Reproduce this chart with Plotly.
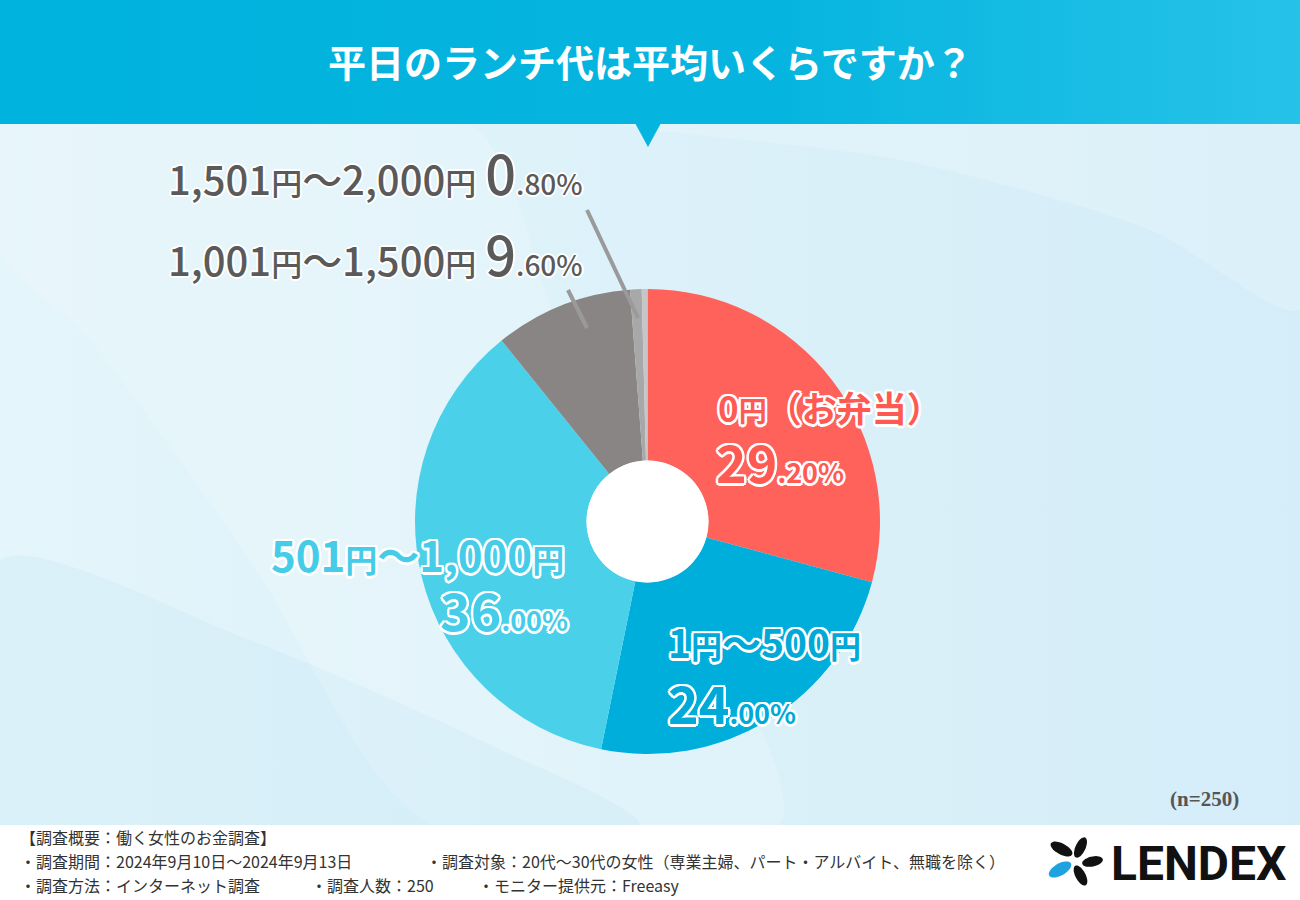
import numpy as np
import plotly.graph_objects as go

# ---------------- data ----------------
title_text = "平日のランチ代は平均いくらですか？"
categories = ["0円（お弁当）", "1円〜500円", "501円〜1,000円", "1,001円〜1,500円", "1,501円〜2,000円", "その他"]
values = [29.2, 24.0, 36.0, 9.6, 0.8, 0.4]
slice_colors = ["#FF625A", "#00AEDB", "#4BD0EA", "#8A8585", "#A8A8A8", "#C6C6C6"]
label_colors = ["#FF5A52", "#00A9D8", "#45CCE8", "#5A5A5A", "#5A5A5A", None]
sample_note = "(n=250)"
survey_head = "【調査概要：働く女性のお金調査】"
survey_items = [
    ["・調査期間：2024年9月10日〜2024年9月13日", "・調査対象：20代〜30代の女性（専業主婦、パート・アルバイト、無職を除く）"],
    ["・調査方法：インターネット調査", "・調査人数：250", "・モニター提供元：Freeasy"],
]
brand = "LENDEX"

# ---------------- helpers ----------------
W, H = 1300, 900
JP = "Noto Sans CJK JP"

def outline(px, col="#ffffff"):
    d = px
    e = round(px * 0.72, 2)
    return ", ".join([
        f"{d}px 0 0 {col}", f"-{d}px 0 0 {col}", f"0 {d}px 0 {col}", f"0 -{d}px 0 {col}",
        f"{e}px {e}px 0 {col}", f"-{e}px -{e}px 0 {col}", f"{e}px -{e}px 0 {col}", f"-{e}px {e}px 0 {col}",
    ])

def yen_small(s, size):
    return s.replace("円", f'<span style="font-size:{size}px">円</span>')

def pct_text(v, big, small):
    s = f"{v:.2f}"
    ip, dp = s.split(".")
    return f'<span style="font-size:{big}px">{ip}</span><span style="font-size:{small}px">.{dp}%</span>'

def ellipse_path(cx, cy, a, b, ang):
    t = np.linspace(0, 2 * np.pi, 40)
    r = np.deg2rad(ang)
    xs = cx + a * np.cos(t) * np.cos(r) - b * np.sin(t) * np.sin(r)
    ys = cy + a * np.cos(t) * np.sin(r) + b * np.sin(t) * np.cos(r)
    return "M " + " L ".join(f"{x:.1f} {y:.1f}" for x, y in zip(xs, ys)) + " Z"

fig = go.Figure()

# background body gradient
fig.add_trace(go.Scatter(
    x=[0, W, W, 0, 0], y=[124, 124, 825, 825, 124], fill="toself", mode="none",
    fillgradient=dict(type="horizontal", colorscale=[[0, "#E4F5FB"], [0.5, "#DCF1F9"], [1, "#D4EDF8"]]),
    hoverinfo="skip", showlegend=False))
# soft light waves
fig.add_trace(go.Scatter(
    x=[0, 470, 560, 700, 780, 430, 250, 90, 0, 0],
    y=[124, 124, 330, 600, 825, 825, 560, 340, 250, 124],
    fill="toself", mode="lines", line=dict(width=0, shape="spline", smoothing=0.8),
    fillcolor="rgba(255,255,255,0.16)", hoverinfo="skip", showlegend=False))
fig.add_trace(go.Scatter(
    x=[620, 900, 1150, 1300, 1300, 620],
    y=[124, 160, 230, 310, 124, 124],
    fill="toself", mode="lines", line=dict(width=0, shape="spline", smoothing=0.8),
    fillcolor="rgba(255,255,255,0.18)", hoverinfo="skip", showlegend=False))
fig.add_trace(go.Scatter(
    x=[0, 250, 480, 640, 0, 0],
    y=[560, 640, 740, 825, 825, 560],
    fill="toself", mode="lines", line=dict(width=0, shape="spline", smoothing=0.8),
    fillcolor="rgba(0,160,210,0.04)", hoverinfo="skip", showlegend=False))
# title band gradient
fig.add_trace(go.Scatter(
    x=[0, W, W, 0, 0], y=[0, 0, 124, 124, 0], fill="toself", mode="none",
    fillgradient=dict(type="horizontal", colorscale=[[0, "#00B2DE"], [0.6, "#06B5DF"], [1, "#26C2E8"]]),
    hoverinfo="skip", showlegend=False))

# pie
cx, cy, R = 647.5, 521.5, 232.5
fig.add_trace(go.Pie(
    labels=categories, values=values, sort=False, direction="clockwise", rotation=0,
    hole=0.262, textinfo="none", hoverinfo="label+value",
    marker=dict(colors=slice_colors, line=dict(width=0)),
    domain=dict(x=[(cx - R) / W, (cx + R) / W], y=[(H - cy - R) / H, (H - cy + R) / H]),
    showlegend=False))

shapes = []
# triangle pointer
shapes.append(dict(type="path", path="M 635 123 L 661 123 L 648 147 Z", xref="x", yref="y",
                   fillcolor="#05B5DF", line=dict(width=0), layer="above"))
# white hole
shapes.append(dict(type="circle", xref="x", yref="y", x0=cx - 61, x1=cx + 61, y0=cy - 61, y1=cy + 61,
                   fillcolor="#FFFFFF", line=dict(width=0), layer="above"))
# leader lines
shapes.append(dict(type="line", xref="x", yref="y", x0=587, y0=210, x1=638, y1=318,
                   line=dict(color="#9A9A9A", width=4), layer="above"))
shapes.append(dict(type="line", xref="x", yref="y", x0=568, y0=290, x1=587, y1=328,
                   line=dict(color="#9A9A9A", width=4), layer="above"))
# footer white
shapes.append(dict(type="rect", xref="x", yref="y", x0=0, x1=W, y0=825, y1=H,
                   fillcolor="#FFFFFF", line=dict(width=0), layer="above"))
# logo petals
petals = [
    (1061.5, 849.0, 12, 5.5, 28, "#111111"),
    (1080.5, 847.5, 11, 5.0, -65, "#111111"),
    (1092.5, 861.5, 10.5, 5.0, -12, "#111111"),
    (1060.0, 869.5, 12.5, 6.0, -30, "#1FA3E0"),
    (1080.5, 875.5, 11, 5.0, 62, "#111111"),
]
for (px, py, a, b, ang, col) in petals:
    shapes.append(dict(type="path", path=ellipse_path(px, py, a, b, ang), xref="x", yref="y",
                       fillcolor=col, line=dict(width=0), layer="above"))

ann = []
# title
ann.append(dict(text=title_text, x=650, y=60, xref="x", yref="y", showarrow=False,
                xanchor="center", yanchor="middle",
                font=dict(family=JP, size=38, color="#FFFFFF", weight=700)))

# slice labels
gray_shadow = outline(2)
col_shadow = outline(2.5)
# 1,501-2,000 (index 4)
ann.append(dict(text=yen_small(categories[4], 31) + " " + pct_text(values[4], 54, 28),
                x=166, y=213, xref="x", yref="y", showarrow=False, xanchor="left", yanchor="bottom",
                font=dict(family=JP, size=40, color=label_colors[4], weight=500, shadow=gray_shadow)))
# 1,001-1,500 (index 3)
ann.append(dict(text=yen_small(categories[3], 31) + " " + pct_text(values[3], 54, 28),
                x=166, y=294, xref="x", yref="y", showarrow=False, xanchor="left", yanchor="bottom",
                font=dict(family=JP, size=40, color=label_colors[3], weight=500, shadow=gray_shadow)))
# 0 yen (index 0)
ann.append(dict(text=yen_small(categories[0], 28), x=716, y=406, xref="x", yref="y", showarrow=False,
                xanchor="left", yanchor="middle",
                font=dict(family=JP, size=35, color=label_colors[0], weight=700, shadow=col_shadow)))
ann.append(dict(text=pct_text(values[0], 52, 27), x=714, y=500, xref="x", yref="y", showarrow=False,
                xanchor="left", yanchor="bottom",
                font=dict(family=JP, size=52, color=label_colors[0], weight=700, shadow=col_shadow)))
# 1-500 (index 1)
ann.append(dict(text=yen_small(categories[1], 31), x=666, y=641, xref="x", yref="y", showarrow=False,
                xanchor="left", yanchor="middle",
                font=dict(family=JP, size=39, color=label_colors[1], weight=700, shadow=col_shadow)))
ann.append(dict(text=pct_text(values[1], 52, 27), x=666, y=741, xref="x", yref="y", showarrow=False,
                xanchor="left", yanchor="bottom",
                font=dict(family=JP, size=52, color=label_colors[1], weight=700, shadow=col_shadow)))
# 501-1000 (index 2)
ann.append(dict(text=yen_small(categories[2], 32), x=566, y=553, xref="x", yref="y", showarrow=False,
                xanchor="right", yanchor="middle",
                font=dict(family=JP, size=42, color=label_colors[2], weight=700, shadow=col_shadow)))
ann.append(dict(text=pct_text(values[2], 52, 27), x=570, y=648, xref="x", yref="y", showarrow=False,
                xanchor="right", yanchor="bottom",
                font=dict(family=JP, size=52, color=label_colors[2], weight=700, shadow=col_shadow)))

# n note
ann.append(dict(text=sample_note, x=1241, y=799, xref="x", yref="y", showarrow=False,
                xanchor="right", yanchor="middle",
                font=dict(family="Liberation Serif", size=21, color="#555555", weight=700)))

# footer
foot_font = dict(family=JP, size=16, color="#333333")
ann.append(dict(text=survey_head, x=18, y=837, xref="x", yref="y", showarrow=False,
                xanchor="left", yanchor="middle", font=foot_font))
row_x = [[18, 424], [18, 309, 476]]
row_y = [861, 885]
for items, xs, yy in zip(survey_items, row_x, row_y):
    for t, xx in zip(items, xs):
        ann.append(dict(text=t, x=xx, y=yy, xref="x", yref="y", showarrow=False,
                        xanchor="left", yanchor="middle", font=foot_font))

# brand
ann.append(dict(text=brand, x=1289, y=863, xref="x", yref="y", showarrow=False,
                xanchor="right", yanchor="middle",
                font=dict(family="Roboto", size=48, color="#111111", weight=700)))

fig.update_layout(
    width=W, height=H, margin=dict(l=0, r=0, t=0, b=0),
    paper_bgcolor="#DDF1F9", plot_bgcolor="#DDF1F9",
    xaxis=dict(range=[0, W], visible=False, fixedrange=True, domain=[0, 1]),
    yaxis=dict(range=[H, 0], visible=False, fixedrange=True, domain=[0, 1]),
    shapes=shapes, annotations=ann, showlegend=False,
)

fig.write_html("out.html", config={"displayModeBar": False},
               post_script="document.body.style.margin='0';document.body.style.overflow='hidden';")
